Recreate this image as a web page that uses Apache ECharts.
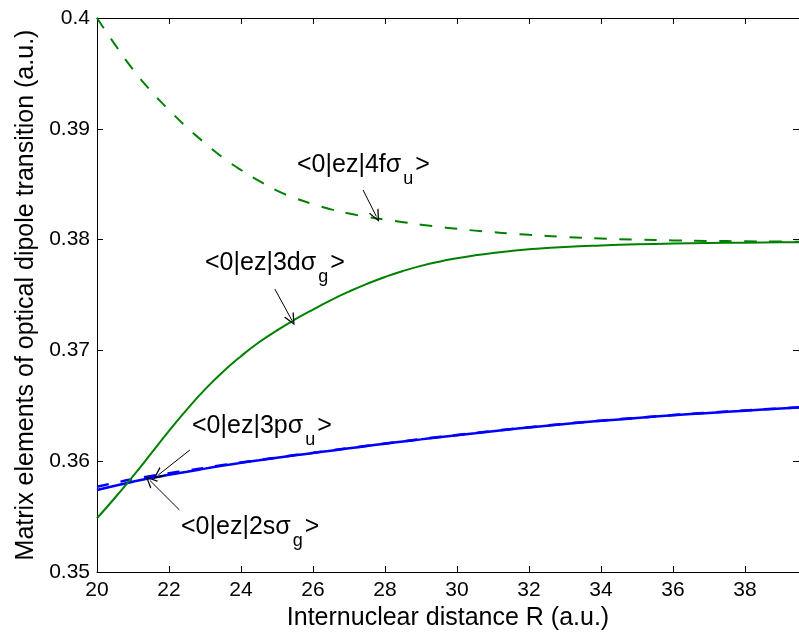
<!DOCTYPE html>
<html>
<head>
<meta charset="utf-8">
<script src="https://cdn.jsdelivr.net/npm/echarts@6/dist/echarts.min.js"></script>
<style>
html,body{margin:0;padding:0;background:#fff;}
#chart{width:799px;height:637px;}
</style>
</head>
<body>
<div id="chart"></div>
<script>
// Internuclear distance R (a.u.)
const rValues = [20, 20.5, 21, 21.5, 22, 22.5, 23, 23.5, 24, 24.5, 25, 25.5, 26, 26.5, 27, 27.5, 28, 28.5, 29, 29.5, 30, 30.5, 31, 31.5, 32, 33, 34, 35, 36, 37, 38, 39, 39.5];

// <0|ez|4f sigma_u>  (green dashed)
const me4f = [0.40000, 0.39760, 0.39535, 0.39340, 0.39170, 0.39012, 0.38870, 0.38740, 0.38628, 0.38530, 0.38442, 0.38375, 0.38320, 0.38273, 0.38235, 0.38205, 0.38180, 0.38157, 0.38135, 0.38115, 0.38097, 0.38081, 0.38067, 0.38054, 0.38043, 0.38024, 0.38010, 0.38000, 0.37993, 0.37988, 0.37985, 0.37982, 0.37981];

// <0|ez|3d sigma_g>  (green solid)
const me3d = [0.35485, 0.35670, 0.35865, 0.36068, 0.36273, 0.36468, 0.36648, 0.36808, 0.36948, 0.37073, 0.37181, 0.37279, 0.37369, 0.37454, 0.37531, 0.37601, 0.37663, 0.37717, 0.37763, 0.37801, 0.37832, 0.37858, 0.37880, 0.37898, 0.37912, 0.37933, 0.37947, 0.37957, 0.37964, 0.37969, 0.37972, 0.37975, 0.37976];

// <0|ez|2s sigma_g>  (blue solid)
const me2s = [0.35740, 0.35779, 0.35815, 0.35848, 0.35877, 0.35905, 0.35933, 0.35960, 0.35985, 0.36008, 0.36031, 0.36053, 0.36074, 0.36095, 0.36116, 0.36137, 0.36158, 0.36178, 0.36197, 0.36216, 0.36235, 0.36253, 0.36271, 0.36288, 0.36305, 0.36336, 0.36364, 0.36390, 0.36414, 0.36436, 0.36456, 0.36475, 0.36484];

// <0|ez|3p sigma_u>  (blue dashed)
const me3p = [0.35770, 0.35805, 0.35838, 0.35866, 0.35892, 0.35915, 0.35940, 0.35965, 0.35988, 0.36010, 0.36033, 0.36055, 0.36076, 0.36097, 0.36118, 0.36139, 0.36160, 0.36180, 0.36199, 0.36218, 0.36237, 0.36255, 0.36273, 0.36290, 0.36307, 0.36338, 0.36366, 0.36392, 0.36416, 0.36438, 0.36458, 0.36477, 0.36486];

// Axis ranges / ticks
const xMin = 20, xMax = 39.5, xStep = 2;
const yMin = 0.35, yMax = 0.40, yStep = 0.01;

// Annotation labels: [main text, subscript]
const labelTexts = [
  ['<0|ez|4fσ', 'u'],
  ['<0|ez|3dσ', 'g'],
  ['<0|ez|3pσ', 'u'],
  ['<0|ez|2sσ', 'g']
];
// Annotation arrows in data space: [fromR, fromM, toR, toM]
const arrows = [
  [27.39, 0.38448, 27.76, 0.38209],
  [24.94, 0.37554, 25.41, 0.37274],
  [22.58, 0.36101, 21.70, 0.35875],
  [22.29, 0.35560, 21.47, 0.35826]
];

const FONT = 'Liberation Sans, Arial, Helvetica, sans-serif';
const pair = (ys) => rValues.map((x, i) => [x, ys[i]]);

const chart = echarts.init(document.getElementById('chart'), null, {renderer: 'canvas'});

const axisCommon = {
  axisLine: {show: true, lineStyle: {color: '#000', width: 1}},
  axisTick: {show: true, inside: true, length: 6, lineStyle: {color: '#000', width: 1}},
  splitLine: {show: false}
};

const labelPos = [
  [297, 165],
  [205, 263],
  [192, 426],
  [181, 527]
];

const graphics = labelTexts.map((t, i) => ({
  type: 'text',
  x: labelPos[i][0],
  y: labelPos[i][1],
  silent: true,
  style: {
    text: '{a|' + t[0] + '}{s|' + t[1] + '}{a|>}',
    verticalAlign: 'middle',
    align: 'left',
    rich: {
      a: {fontSize: 25, fontFamily: FONT, fill: '#000', lineHeight: 46, verticalAlign: 'middle'},
      s: {fontSize: 18, fontFamily: FONT, fill: '#000', lineHeight: 16, verticalAlign: 'bottom', padding: [0, 2, 0, 2]}
    }
  }
}));

const chevron = 'path://M5,0 L10,10 L8.7,10 L5,2.4 L1.3,10 L0,10 Z';

const lineSeries = (name, ys, color, width, dash, z) => ({
  name: name, type: 'line', data: pair(ys), smooth: 0.5, showSymbol: false, symbol: 'none',
  lineStyle: {color: color, width: width, type: dash || 'solid'}, z: z
});

chart.setOption({
  animation: false,
  backgroundColor: '#fff',
  grid: {left: 97, right: 0, top: 18, bottom: 65, containLabel: false},
  xAxis: [
    Object.assign({}, axisCommon, {
      type: 'value', min: xMin, max: xMax, interval: xStep, position: 'bottom',
      name: 'Internuclear distance R (a.u.)', nameLocation: 'middle', nameGap: 33,
      nameTextStyle: {fontSize: 25, fontFamily: FONT, color: '#000'},
      axisLabel: {fontSize: 21, fontFamily: FONT, color: '#000', margin: 8, showMaxLabel: false}
    }),
    Object.assign({}, axisCommon, {
      type: 'value', min: xMin, max: xMax, interval: xStep, position: 'top',
      axisLabel: {show: false}
    })
  ],
  yAxis: [
    Object.assign({}, axisCommon, {
      type: 'value', min: yMin, max: yMax, interval: yStep, position: 'left',
      name: 'Matrix elements of optical dipole transition (a.u.)', nameLocation: 'middle', nameGap: 58,
      nameTextStyle: {fontSize: 25, fontFamily: FONT, color: '#000'},
      axisLabel: {fontSize: 21, fontFamily: FONT, color: '#000', margin: 7,
        formatter: (v) => String(+v.toFixed(2))}
    }),
    Object.assign({}, axisCommon, {
      type: 'value', min: yMin, max: yMax, interval: yStep, position: 'right',
      axisLabel: {show: false}
    })
  ],
  series: [
    lineSeries('2s', me2s, '#0000ff', 2.5, null, 2),
    lineSeries('3p', me3p, '#0000ff', 2.5, [12, 12], 3),
    lineSeries('3d', me3d, '#008000', 2, null, 4),
    lineSeries('4f', me4f, '#008000', 2, [12.5, 12.5], 4),
    {
      name: 'arrows', type: 'line', data: [], z: 6, silent: true,
      markLine: {
        silent: true, animation: false,
        symbol: ['none', chevron], symbolSize: [11, 12],
        label: {show: false},
        lineStyle: {color: '#000', width: 1, type: 'solid'},
        emphasis: {disabled: true},
        data: arrows.map(a => [
          {coord: [a[0], a[1]]},
          {coord: [a[2], a[3]]}
        ])
      }
    }
  ],
  graphic: graphics
});
</script>
</body>
</html>
